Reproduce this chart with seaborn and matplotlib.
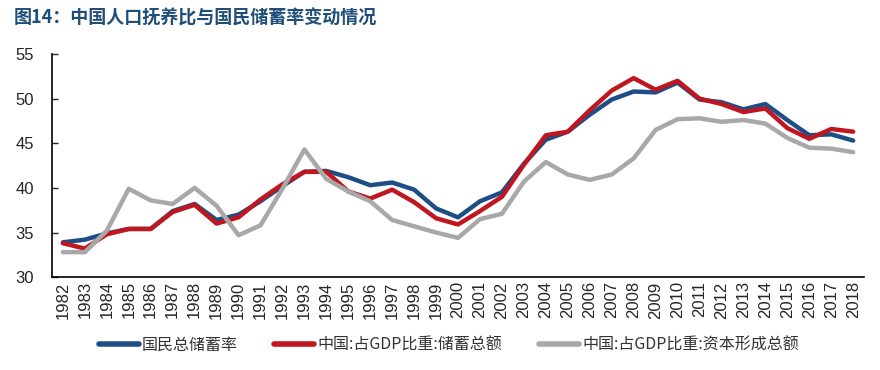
import pandas as pd
import numpy as np

import matplotlib
matplotlib.use('Agg')
import matplotlib.pyplot as plt
import seaborn as sns

# datos
years = list(range(1982, 2019))

ahorro_nacional = [33.9, 34.2, 34.9, 35.4, 35.4, 37.4, 38.2, 36.4, 37.0, 38.5,
                   40.2, 41.8, 41.9, 41.2, 40.3, 40.6, 39.8, 37.7, 36.7, 38.5,
                   39.5, 42.7, 45.4, 46.3, 48.2, 49.9, 50.8, 50.7, 51.8, 49.9,
                   49.6, 48.8, 49.4, 47.6, 45.9, 46.0, 45.3]

ahorro_pib = [33.8, 33.2, 34.8, 35.4, 35.4, 37.3, 38.1, 36.0, 36.7, 38.7,
              40.4, 41.8, 41.8, 39.6, 38.8, 39.8, 38.4, 36.6, 35.9, 37.4,
              39.0, 42.6, 45.9, 46.3, 48.7, 50.9, 52.3, 51.0, 52.0, 50.0,
              49.4, 48.5, 48.9, 46.7, 45.5, 46.6, 46.3]

capital_pib = [32.8, 32.8, 35.2, 39.9, 38.6, 38.2, 40.0, 38.0, 34.7, 35.8,
               39.9, 44.3, 41.0, 39.6, 38.5, 36.4, 35.7, 35.0, 34.4, 36.5,
               37.1, 40.7, 42.9, 41.5, 40.9, 41.5, 43.3, 46.5, 47.7, 47.8,
               47.4, 47.6, 47.2, 45.6, 44.5, 44.4, 44.0]

series_names = ['国民总储蓄率', '中国:占GDP比重:储蓄总额', '中国:占GDP比重:资本形成总额']
series_colors = ['#1F4E86', '#C0161F', '#A8A8A8']

df = pd.DataFrame({'year': years,
                   series_names[0]: ahorro_nacional,
                   series_names[1]: ahorro_pib,
                   series_names[2]: capital_pib})
df_long = df.melt(id_vars='year', var_name='serie', value_name='valor')

sns.set_style('white')
plt.rcParams['font.family'] = ['Noto Sans CJK SC', 'Liberation Sans', 'DejaVu Sans']
plt.rcParams['axes.unicode_minus'] = False

fig = plt.figure(figsize=(8.8, 3.7), dpi=100)
ax = fig.add_axes([0.059, 0.251, 0.923, 0.603])

sns.lineplot(data=df_long, x='year', y='valor', hue='serie', hue_order=series_names,
             palette=series_colors, linewidth=3.2, ax=ax, legend=False)

ax.set_xlim(1981.5, 2018.5)
ax.set_ylim(30, 55)
ax.set_xticks(years)
ax.set_xticklabels([str(y) for y in years], rotation=90, family='Liberation Sans', fontsize=12)
ax.set_yticks([30, 35, 40, 45, 50, 55])
ax.set_yticklabels(['30', '35', '40', '45', '50', '55'], family='Liberation Sans', fontsize=12)
ax.tick_params(axis='x', length=0, pad=3)
ax.tick_params(axis='y', direction='in', length=4, width=1, pad=13, left=True)
ax.set_xlabel('')
ax.set_ylabel('')

for s in ['top', 'right']:
    ax.spines[s].set_visible(False)
for s in ['left', 'bottom']:
    ax.spines[s].set_color('black')
    ax.spines[s].set_linewidth(1.2)

# leyenda abajo
handles = [plt.Line2D([0], [0], color=c, lw=4) for c in series_colors]
fig.legend(handles, series_names, loc='center', bbox_to_anchor=(0.51, 0.068), ncol=3,
           frameon=False, fontsize=11.5, handlelength=2.5, handletextpad=0.2,
           columnspacing=2.3, labelcolor='#333333')

# título
fig.text(0.016, 0.952, '图14：中国人口抚养比与国民储蓄率变动情况', fontsize=13,
         fontweight='bold', color='#1F4E79', ha='left', va='center')

fig.savefig('out.png', dpi=100)
